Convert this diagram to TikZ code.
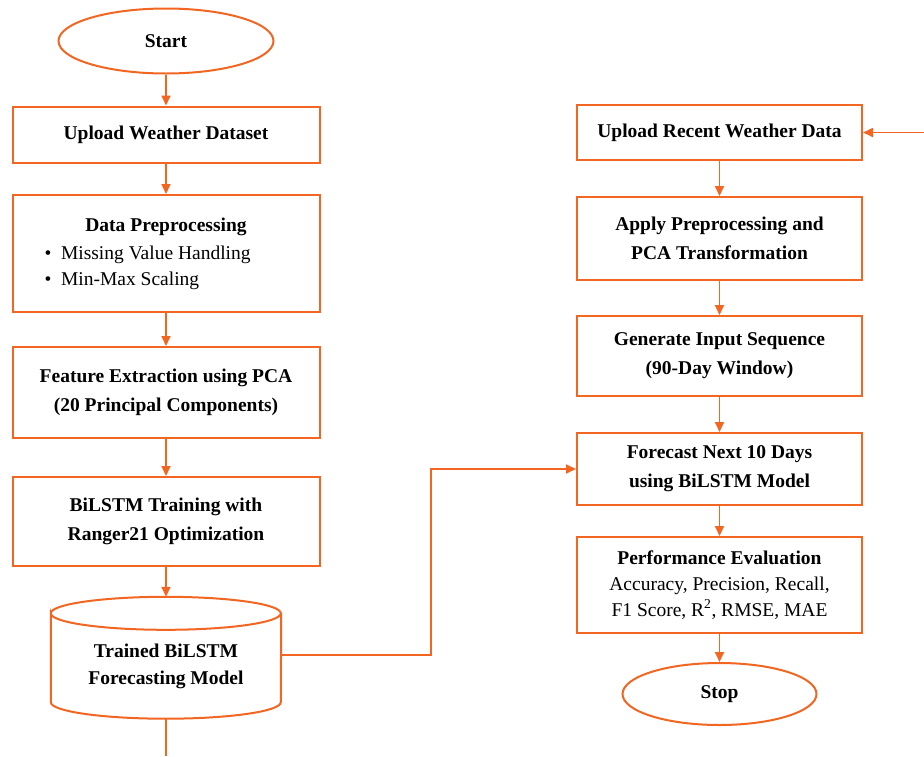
\documentclass[tikz,border=0pt]{standalone}
\usepackage{fontspec}
\setmainfont{Liberation Serif}
\usetikzlibrary{arrows.meta,calc,shapes.geometric}
\definecolor{flow}{RGB}{242,102,34}

\begin{document}
\begin{tikzpicture}[x=1pt,y=-1pt,>={Triangle[length=10pt,width=9pt]},
    box/.style={draw=flow,line width=2pt,inner sep=0pt,align=center,font=\fontsize{19.5}{29}\selectfont\bfseries},
    lbox/.style={box,minimum width=307pt},
    rbox/.style={box,minimum width=285pt},
    term/.style={draw=flow,line width=2pt,ellipse,inner sep=0pt,font=\fontsize{19.5}{28}\selectfont\bfseries},
    link/.style={draw=flow,line width=1.7pt}]
  \useasboundingbox (0,0) rectangle (924,756);
  % left column
  \node[term,minimum width=215pt,minimum height=65pt] (start) at (166,41) {Start};
  \node[lbox,minimum height=56pt] (upload) at (166,134.5) {Upload Weather Dataset};
  \node[lbox,minimum height=117pt] (prep) at (166,253.5)
    {Data Preprocessing\\[-1pt]
     \mdseries\makebox[243pt][l]{\textbullet\enspace Missing Value Handling}\\[-3pt]
     \mdseries\makebox[243pt][l]{\textbullet\enspace Min-Max Scaling}};
  \node[lbox,minimum height=91pt] (feat) at (166,392.5) {Feature Extraction using PCA\\(20 Principal Components)};
  \node[lbox,minimum height=89pt] (train) at (166,521.5) {BiLSTM Training with\\Ranger21 Optimization};
  \node[minimum width=230pt,minimum height=105pt,inner sep=0pt,align=center,font=\fontsize{19.5}{27}\selectfont\bfseries]
    (model) at (166,666) {Trained BiLSTM\\Forecasting Model};
  \coordinate (mtop) at ($(model.north)+(0,-16.5)$);
  \draw[flow,line width=2pt] (model.north west) arc[start angle=180,end angle=-180,x radius=115pt,y radius=16.5pt]
    -- ($(model.south west)+(0,-16.5)$) arc[start angle=180,end angle=360,x radius=115pt,y radius=16.5pt]
    -- (model.north east);
  % right column
  \node[rbox,minimum height=55pt] (recent) at (719.5,132.5) {Upload Recent Weather Data};
  \node[rbox,minimum height=83pt] (apply) at (719.5,238.5) {Apply Preprocessing and\\PCA Transformation};
  \node[rbox,minimum height=80pt] (seq) at (719.5,356) {Generate Input Sequence\\(90-Day Window)};
  \node[rbox,minimum height=72pt] (forecast) at (719.5,469) {Forecast Next 10 Days\\using BiLSTM Model};
  \node[rbox,minimum height=96pt] (perf) at (719.5,585)
    {Performance Evaluation\\[-3pt]\mdseries Accuracy, Precision, Recall,\\[-3pt]\mdseries F1 Score, R\textsuperscript{2}, RMSE, MAE};
  \node[term,minimum width=194pt,minimum height=62pt] (stop) at (719.5,694) {Stop};
  \coordinate (feed) at (924,132.5);
  \coordinate (out) at (166,756);
  % connectors
  \foreach \a/\b in {start/upload,upload/prep,prep/feat,feat/train,recent/apply,apply/seq,seq/forecast,forecast/perf,perf/stop}
    \draw[link,->] (\a) -- (\b);
  \draw[link,->] (train.south) -- (mtop);
  \draw[link,->] (feed) -- (recent);
  \draw[link,->] ([yshift=11pt]model.east) -- ++(150,0) |- (forecast.west);
  \draw[link] (model.south) -- (out);
\end{tikzpicture}
\end{document}
